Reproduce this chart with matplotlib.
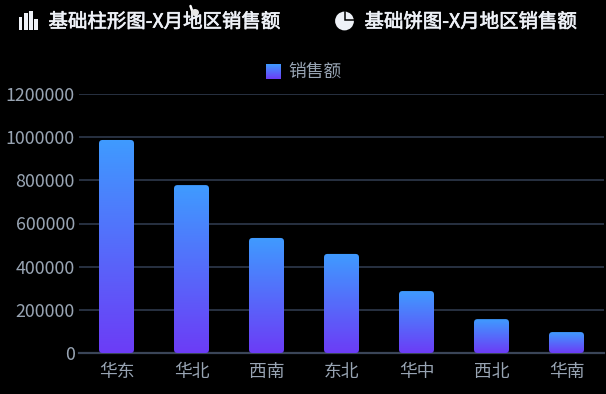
import numpy as np
import matplotlib
matplotlib.use("Agg")
import matplotlib.pyplot as plt
import matplotlib.patheffects as pe
from matplotlib.colors import LinearSegmentedColormap
from matplotlib.patches import FancyBboxPatch, Rectangle, Circle, Ellipse

plt.rcParams['font.family'] = ['Noto Sans CJK SC', 'DejaVu Sans']

categories = ['华东', '华北', '西南', '东北', '华中', '西北', '华南']
sales = [987000, 778000, 533000, 459000, 287000, 157000, 97000]
yticks = [0, 200000, 400000, 600000, 800000, 1000000, 1200000]
series_name = '销售额'
title_bar = '基础柱形图-X月地区销售额'
title_pie = '基础饼图-X月地区销售额'

W, H = 606, 394
fig = plt.figure(figsize=(W / 100, H / 100), dpi=100, facecolor='#000000')
L, R, T, B = 79, 604, 94, 353
ax = fig.add_axes([L / W, 1 - B / H, (R - L) / W, (B - T) / H], facecolor='#000000')

cmap = LinearSegmentedColormap.from_list('g', ['#6c3cf6', '#3f9bff'])
grad = np.linspace(0, 1, 256).reshape(-1, 1)

xpx = (R - L) / len(categories)
ypx = (B - T) / 1200000
bar_w = 35 / xpx
aspect = (1 / ypx) / (1 / xpx)
r = 3.5 / xpx

for i, v in enumerate(sales):
    im = ax.imshow(grad, cmap=cmap, origin='lower', aspect='auto', zorder=3,
                   extent=(i - bar_w / 2, i + bar_w / 2, 0, v))
    clip = FancyBboxPatch((i - bar_w / 2 + r, r * aspect), bar_w - 2 * r,
                          v - 2 * r * aspect,
                          boxstyle=f'round,pad={r},rounding_size={r}',
                          mutation_aspect=aspect, transform=ax.transData,
                          facecolor='none', edgecolor='none')
    ax.add_patch(clip)
    im.set_clip_path(clip)
ax.set_xlim(-0.5, len(categories) - 0.5)
ax.set_ylim(0, 1200000)

ax.set_yticks(yticks)
ax.set_yticklabels([str(t) for t in yticks])
ax.set_xticks(range(len(categories)))
ax.set_xticklabels(categories)
ax.grid(axis='y', color='#2b3546', lw=1.3, zorder=1)
ax.set_axisbelow(True)
ax.tick_params(axis='both', length=0, labelsize=12.8, labelcolor='#98a4b3')
ax.tick_params(axis='y', pad=3)
ax.tick_params(axis='x', pad=7)
for lab in ax.get_yticklabels():
    lab.set_y(lab.get_position()[1])
for s in ax.spines.values():
    s.set_visible(False)
ax.axhline(0, color='#3a4558', lw=1.6, clip_on=False, zorder=2)

ov = fig.add_axes([0, 0, 1, 1], facecolor='none')
ov.axis('off')

stroke = [pe.withStroke(linewidth=0.45, foreground='#eef1f7')]
ov.text(48.5, 22, title_bar, color='#eef1f7', fontsize=14, va='center', ha='left', path_effects=stroke)
ov.text(364.5, 22, title_pie, color='#eef1f7', fontsize=14, va='center', ha='left', path_effects=stroke)

for x0, x1, top in zip([19, 24, 29.3, 34.3], [22, 27.5, 33, 38], [17.3, 13, 11, 19]):
    ov.add_patch(Rectangle((x0, top), x1 - x0, 30 - top, color='#eef1f7', lw=0))

ov.add_patch(Circle((344.5, 21), 9.4, color='#eef1f7', lw=0))
ov.plot([344.8, 344.8, 354], [11.5, 20.4, 20.4], color='#000000', lw=1.1, solid_joinstyle='miter')

ov.imshow(grad, cmap=cmap, origin='lower', aspect='auto', extent=(265.7, 280.7, 79, 64), zorder=3)
ov.text(288.5, 72, series_name, color='#98a4b3', fontsize=12.8, va='center', ha='left')

# mouse pointer captured in the screenshot
ov.plot([190.5, 192.5], [6, 12], color='#ffffff', lw=1.8, solid_capstyle='round', zorder=6)
ov.add_patch(Ellipse((195, 12.5), 8, 7, color='#e6e6e6', lw=0, zorder=6))

ov.set_xlim(0, W)
ov.set_ylim(H, 0)

fig.savefig('out.png', dpi=100, facecolor='#000000')
